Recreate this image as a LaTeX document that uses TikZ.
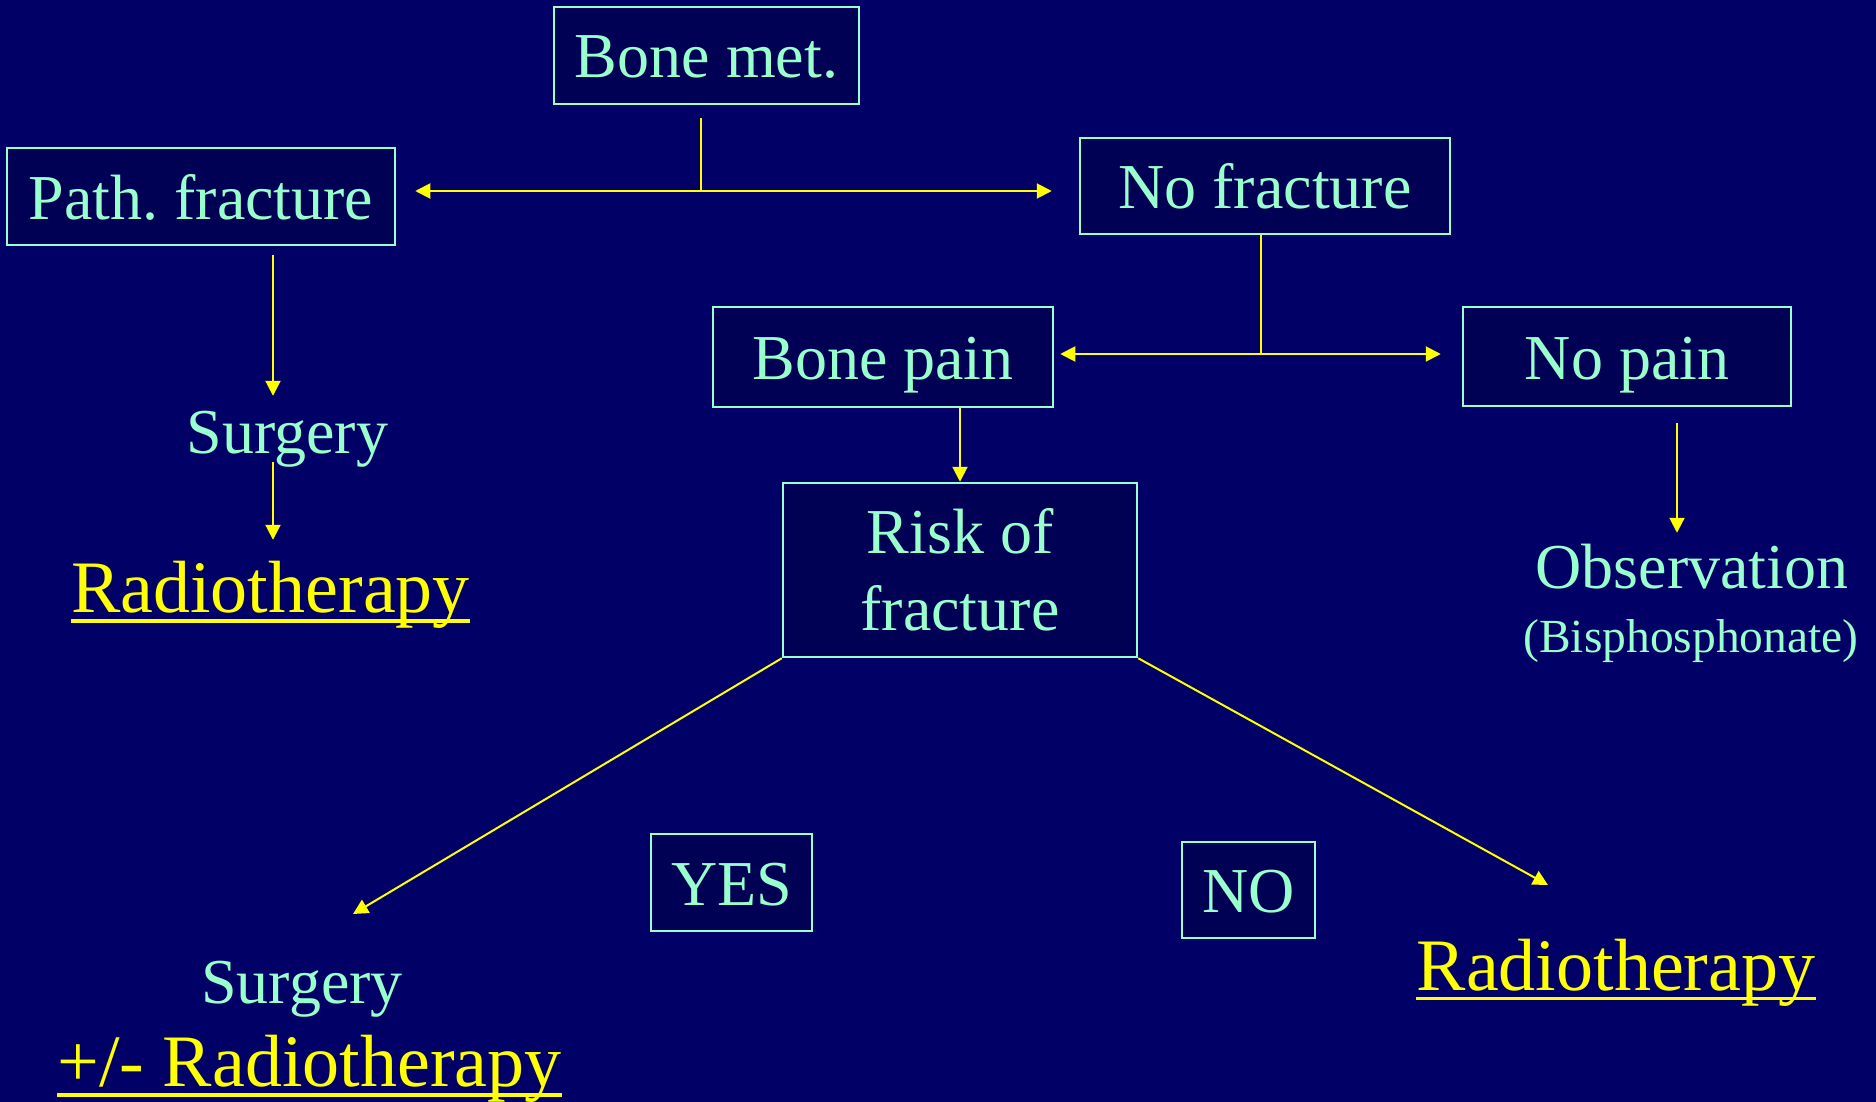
\documentclass[tikz,border=0pt]{standalone}
\usepackage{fontspec}
\setmainfont{Liberation Serif}
\usetikzlibrary{arrows.meta,calc}
\definecolor{bg}{RGB}{0,0,102}
\definecolor{boxfill}{RGB}{0,0,85}
\definecolor{cyanc}{RGB}{153,255,204}
\definecolor{yel}{RGB}{255,255,0}
\newcommand\labfont{\fontsize{64}{77}\selectfont}
\newcommand\radfont{\fontsize{74}{88}\selectfont}
\newcommand\subfont{\fontsize{47.5}{56}\selectfont}
\frenchspacing
\begin{document}
\begin{tikzpicture}[x=1pt,y=-1pt,
  stepbox/.style={draw=cyanc, line width=2.5pt, fill=boxfill, text=cyanc, font=\labfont, inner sep=0pt, align=center},
  onebox/.style={stepbox, text height=50pt, text depth=5pt},
  lab/.style={text=cyanc, font=\labfont, inner sep=0pt, anchor=base, text height=44pt, text depth=9pt},
  rad/.style={text=yel, font=\radfont, inner sep=0pt, anchor=base, text height=50pt, text depth=16pt},
  sub/.style={text=cyanc, font=\subfont, inner sep=0pt, anchor=base},
  conn/.style={draw=yel, line width=2pt},
  arr/.style={conn, -{Triangle[width=15pt,length=15pt]}},
  dbl/.style={conn, {Triangle[width=15pt,length=15pt]}-{Triangle[width=15pt,length=15pt]}},
  uline/.style={draw=yel, line width=3.5pt}
]
\useasboundingbox (0,0) rectangle (1876,1102);
\fill[bg] (0,0) rectangle (1876,1102);

% boxes
\node[onebox, minimum width=305pt, minimum height=97pt] (bonemet) at (706.5,55.5) {Bone met.};
\node[onebox, minimum width=388pt, minimum height=97pt] (path) at (201,196.5) {Path.\ fracture};
\node[onebox, minimum width=370pt, minimum height=96pt] (nofrac) at (1265,186) {No fracture};
\node[onebox, minimum width=340pt, minimum height=100pt] (bonepain) at (883,357) {Bone pain};
\node[onebox, minimum width=328pt, minimum height=99pt] (nopain) at (1627,356.5) {No pain};
\node[stepbox, minimum width=354pt, minimum height=174pt] (risk) at (960,570) {Risk of\\fracture};
\node[onebox, minimum width=161pt, minimum height=97pt] (yes) at (731.5,882.5) {YES};
\node[onebox, minimum width=133pt, minimum height=96pt] (no) at (1248.5,890) {NO};

% free texts
\node[lab] (surg1) at (287.5,453) {Surgery};
\node[rad] (rad1) at (270.5,612) {Radiotherapy};
\node[lab] (obs) at (1692,588) {Observation};
\node[sub] (bis) at (1691,652) {(Bisphosphonate)};
\node[lab] (surg2) at (302,1003) {Surgery};
\node[rad] (rad2) at (309.5,1086) {+/- Radiotherapy};
\node[rad] (rad3) at (1616,990) {Radiotherapy};

% underlines
\draw[uline] ([yshift=-9pt]rad1.base west) -- ([yshift=-9pt]rad1.base east);
\draw[uline] ([yshift=-9pt]rad2.base west) -- ([yshift=-9pt]rad2.base east);
\draw[uline] ([yshift=-8.5pt]rad3.base west) -- ([yshift=-8.5pt]rad3.base east);

% junctions and free ends
\coordinate (j1) at (701,191);
\coordinate (j2) at (1261,354);
\coordinate (c1) at (273,0);
\coordinate (c3) at (1677,0);
\coordinate (t1) at (353,914);
\coordinate (t2) at (1548,885);

% connectors
\draw[conn, shorten <=13pt] (bonemet.south -| j1) -- (j1);
\draw[dbl, shorten <=19pt, shorten >=27pt] (path.east |- j1) -- (nofrac.west |- j1);
\draw[conn] (nofrac.south -| j2) -- (j2);
\draw[dbl, shorten <=6pt, shorten >=21pt] (bonepain.east |- j2) -- (nopain.west |- j2);
\draw[arr, shorten <=9pt, shorten >=13pt] (path.south -| c1) -- (surg1.north -| c1);
\draw[arr, shorten >=22pt] (surg1.south -| c1) -- (rad1.north -| c1);
\draw[arr, shorten <=16pt, shorten >=11pt] (nopain.south -| c3) -- (obs.north -| c3);
\draw[arr] (bonepain.south -| risk.north) -- (risk.north);
\draw[arr] (risk.south west) -- (t1);
\draw[arr] (risk.south east) -- (t2);
\end{tikzpicture}
\end{document}
